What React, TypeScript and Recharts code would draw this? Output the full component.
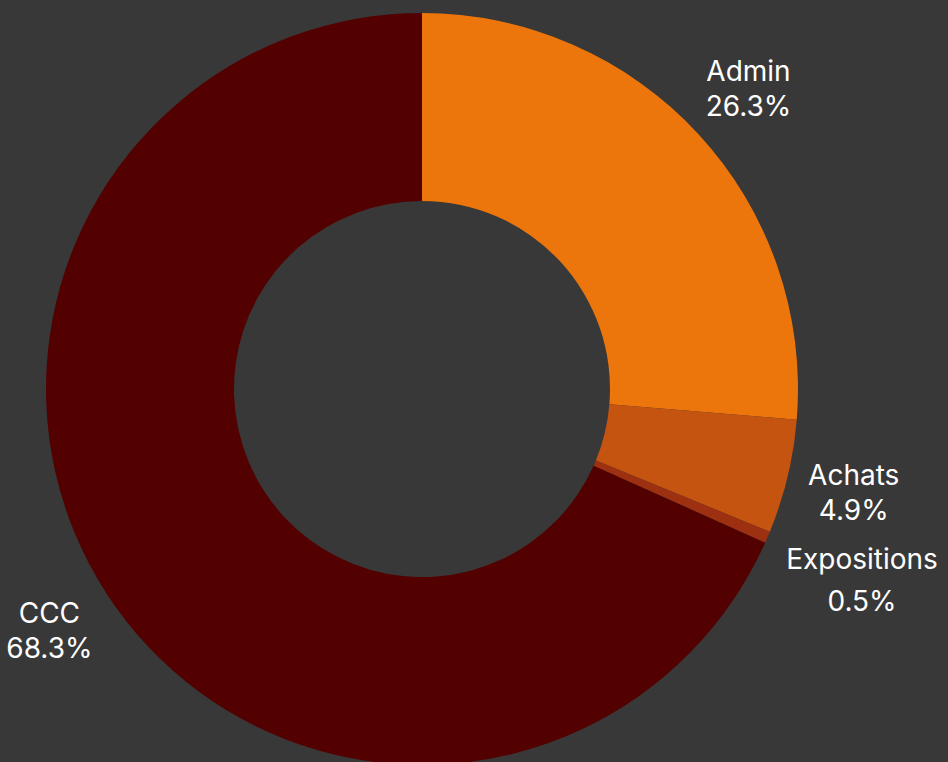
import { PieChart, Pie, Cell } from 'recharts';

const categories = ['Admin', 'Achats', 'Expositions', 'CCC'];
const shares = [26.3, 4.9, 0.5, 68.3];
const colors = ['#EC760B', '#C55410', '#9C3010', '#530000'];

const data = categories.map((name, i) => ({ name, value: shares[i] }));

const RADIAN = Math.PI / 180;

// small nudges so the thin slice's label clears its neighbour
const labelNudge: Record<string, [number, number]> = {
  Expositions: [32, 16],
};

function renderLabel(props: any) {
  const { cx, cy, midAngle, outerRadius, name, value } = props;
  const r = outerRadius + 68;
  const [nx, ny] = labelNudge[name] ?? [0, 0];
  const x = cx + r * Math.cos(-midAngle * RADIAN) + nx;
  const y = cy + r * Math.sin(-midAngle * RADIAN) + ny;
  const gap = name === 'Expositions' ? 21 : 17.5;
  return (
    <text
      x={x}
      y={y}
      fill="#FFFFFF"
      textAnchor="middle"
      dominantBaseline="central"
      fontSize={28}
      fontFamily="Inter, sans-serif"
    >
      <tspan x={x} y={y - gap}>
        {name}
      </tspan>
      <tspan x={x} y={y + gap}>
        {Number(value).toFixed(1)}%
      </tspan>
    </text>
  );
}

export default function App() {
  return (
    <div
      style={{
        position: 'fixed',
        top: 0,
        left: 0,
        width: 948,
        height: 762,
        background: '#383838',
        overflow: 'hidden',
      }}
    >
      <PieChart width={948} height={762} margin={{ top: 0, right: 0, bottom: 0, left: 0 }}>
        <Pie
          data={data}
          dataKey="value"
          nameKey="name"
          cx={422}
          cy={389}
          innerRadius={188}
          outerRadius={376}
          startAngle={90}
          endAngle={-270}
          stroke="none"
          label={renderLabel}
          labelLine={false}
          isAnimationActive={false}
        >
          {data.map((d, i) => (
            <Cell key={d.name} fill={colors[i]} />
          ))}
        </Pie>
      </PieChart>
    </div>
  );
}
